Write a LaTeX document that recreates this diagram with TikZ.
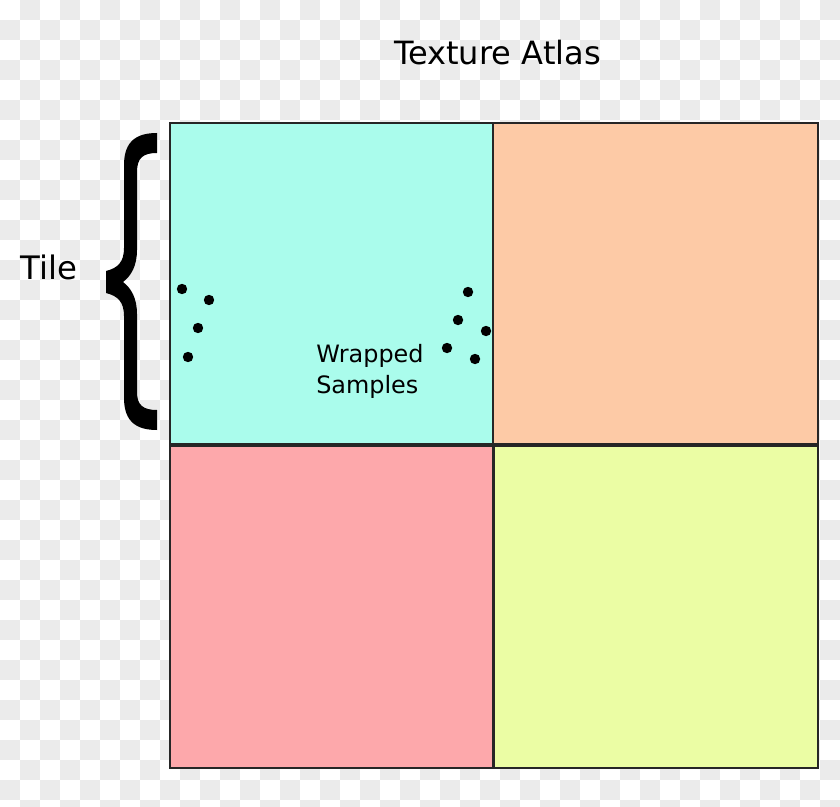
\documentclass[tikz,border=0pt]{standalone}
\usepackage{fontspec}
\setmainfont{DejaVu Sans}
\definecolor{checkgray}{HTML}{EBEBEB}
\definecolor{tilecyan}{HTML}{AAFCEC}
\definecolor{tileorange}{HTML}{FDCAA6}
\definecolor{tilered}{HTML}{FDA8AB}
\definecolor{tileyellow}{HTML}{EBFDA4}
\tikzset{
  tile/.style={draw=black!85, line width=1.3pt},
  label/.style={inner sep=0pt, font=\fontsize{23}{27}\selectfont},
  sample/.style={fill=black}
}
\begin{document}
\begin{tikzpicture}[x=0.025cm, y=-0.025cm]
\useasboundingbox (0,0) rectangle (840,807);
\clip (0,0) rectangle (840,807);
% 绘制背景格子
\fill[white] (0,0) rectangle (840,807);
\foreach \i in {0,...,41}{
  \foreach \j in {0,...,40}{
    \pgfmathtruncatemacro\odd{mod(\i+\j,2)}
    \ifnum\odd=1 \fill[checkgray] (\i*20,\j*20) rectangle ++(20,20); \fi
  }
}
% 四个瓦片
\filldraw[tile, fill=tilecyan] (170,123) rectangle (493,444);
\filldraw[tile, fill=tileorange] (493,123) rectangle (818,444);
\filldraw[tile, fill=tilered] (170,446) rectangle (493,768);
\filldraw[tile, fill=tileyellow] (494,446) rectangle (818,768);
% 采样点
\foreach \x/\y in {182/289, 209/300, 198/328, 188/357, 468/292, 458/320, 486/331, 447/348, 475/359}
  \fill[sample] (\x,\y) circle (3.7pt);
% 大括号
\fill[black] (157,133) .. controls (138,133) and (124,140) .. (124,165)
  -- (124,248) .. controls (124,262) and (118,268) .. (106,271)
  -- (106,293) .. controls (118,296) and (124,302) .. (124,316)
  -- (124,398) .. controls (124,423) and (138,430) .. (157,430)
  -- (157,410) .. controls (143,410) and (137,405) .. (137,392)
  -- (137,314) .. controls (137,298) and (131,288) .. (123,282)
  .. controls (131,276) and (137,266) .. (137,250)
  -- (137,172) .. controls (137,158) and (143,153) .. (157,153) -- cycle;
% 文字
\node[label, anchor=base, font=\fontsize{22.8}{27}\selectfont] (atlas) at (497.5,65) {Texture Atlas};
\node[label, anchor=base] (tile) at (49,279) {Tile};
\node[label, anchor=base west, align=left, font=\fontsize{17}{22}\selectfont] (wrapped) at (316,393) {Wrapped\\Samples};
\end{tikzpicture}
\end{document}
